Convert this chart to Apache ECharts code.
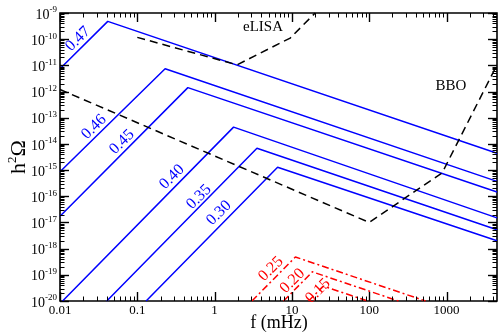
<!DOCTYPE html>
<html><head><meta charset="utf-8">
<script src="https://cdn.jsdelivr.net/npm/echarts@6/dist/echarts.min.js"></script>
<style>html,body{margin:0;padding:0;background:#fff}#c{width:498px;height:333px}</style>
</head><body><div id="c"></div>
<script>
// ---- axis ranges and tick labels ----
const X_MIN = 0.01, X_MAX = 4500;
const Y_MIN = 1e-20, Y_MAX = 1e-9;
const xTickValues = [0.01, 0.1, 1, 10, 100, 1000];
const xTickLabels = ['0.01', '0.1', '1', '10', '100', '1000'];
const yTickExponents = [-20, -19, -18, -17, -16, -15, -14, -13, -12, -11, -10, -9];

// ---- blue broken power-law spectra ([f (mHz), h^2 Omega]) ----
const blue047 = [[0.01, 7.4e-12], [0.0415, 4.8e-10], [4500, 4.4e-15]];
const blue046 = [[0.01, 8.7e-16], [0.229, 7.4e-12], [4500, 3.7e-16]];
const blue045 = [[0.01, 1.74e-17], [0.451, 1.41e-12], [4500, 1.45e-16]];
const blue040 = [[0.0108, 1e-20], [1.76, 4.37e-14], [4500, 1.5e-17]];
const blue035 = [[0.0403, 1e-20], [3.53, 6.8e-15], [4500, 5.3e-18]];
const blue030 = [[0.13, 1e-20], [6.53, 1.29e-15], [4500, 2.0e-18]];
const blueNames = ['0.47', '0.46', '0.45', '0.40', '0.35', '0.30'];

// ---- red spectra ----
const red025 = [[3.04, 1e-20], [11.1, 4.8e-19], [535, 1e-20]];
const red020 = [[7.8, 1e-20], [18.4, 1.3e-19], [239, 1e-20]];
const red015 = [[16.4, 1e-20], [25.5, 3.7e-20], [95, 1e-20]];
const redNames = ['0.25', '0.20', '0.15'];

// ---- sensitivity curves ----
const eLISA = [[0.1, 1.17e-10], [1.95, 1.05e-11], [9.5, 1.1e-10], [20, 1e-9]];
const BBO = [[0.01, 1.2e-12], [100, 1.0e-17], [880, 7.9e-16], [4500, 1.05e-11]];

// ---- tick marks (major decades + log minor ticks) ----
const xTicks = [];
for (let d = -2; d <= 3; d++) {
  const base = Math.pow(10, d);
  xTicks.push([base, 1]);
  for (let k = 2; k <= 9; k++) { const v = k * base; if (v < X_MAX) xTicks.push([v, 0]); }
}
const yTicks = [];
for (let d = -20; d <= -9; d++) {
  const base = Math.pow(10, d);
  yTicks.push([base, 1]);
  if (d < -9) for (let k = 2; k <= 9; k++) yTicks.push([k * base, 0]);
}

const SERIF = 'Liberation Serif';
const BLUE = '#0000ff', RED = '#ff0000';

function lineSeries(name, data, color, type) {
  return { name, type: 'line', data, symbol: 'none', clip: true, silent: true,
    lineStyle: { color, width: 1.5, type: type || 'solid' }, z: 3 };
}

const series = [
  lineSeries('0.47', blue047, BLUE), lineSeries('0.46', blue046, BLUE), lineSeries('0.45', blue045, BLUE),
  lineSeries('0.40', blue040, BLUE), lineSeries('0.35', blue035, BLUE), lineSeries('0.30', blue030, BLUE),
  lineSeries('0.25', red025, RED, [7, 3, 2, 3]), lineSeries('0.20', red020, RED, [7, 3, 2, 3]),
  lineSeries('0.15', red015, RED, [7, 3, 2, 3]),
  lineSeries('eLISA', eLISA, '#000', [8, 5]), lineSeries('BBO', BBO, '#000', [8, 5])
];

function txt(x, y, text, color, size, rot) {
  return { type: 'text', x, y, rotation: rot || 0, z: 10, silent: true,
    style: { text, fill: color, font: size + 'px "' + SERIF + '"', align: 'center', verticalAlign: 'middle',
      textAlign: 'center', textVerticalAlign: 'middle' } };
}
const R45 = Math.PI / 4;
const graphics = [
  txt(78, 39, blueNames[0], BLUE, 16, R45),
  txt(94, 127, blueNames[1], BLUE, 16, R45),
  txt(122, 142, blueNames[2], BLUE, 16, R45),
  txt(172, 177, blueNames[3], BLUE, 16, R45),
  txt(199, 197, blueNames[4], BLUE, 16, R45),
  txt(219, 213, blueNames[5], BLUE, 16, R45),
  txt(271, 269, redNames[0], RED, 16, R45),
  txt(292.5, 281, redNames[1], RED, 16, R45),
  txt(318, 291, redNames[2], RED, 16, R45),
  txt(263, 27, 'eLISA', '#000', 15, 0),
  txt(451, 86, 'BBO', '#000', 15, 0),
  txt(279, 323, 'f (mHz)', '#000', 18, 0)
];

const chart = echarts.init(document.getElementById('c'), null, { renderer: 'canvas' });
chart.setOption({
  animation: false,
  backgroundColor: '#fff',
  grid: { left: 60, right: 1, top: 13, bottom: 32, show: true, borderColor: '#000', borderWidth: 1.6,
    backgroundColor: 'transparent', containLabel: false, outerBoundsMode: 'none' },
  xAxis: {
    type: 'log', logBase: 10, min: X_MIN, max: X_MAX, splitNumber: 6,
    axisLine: { show: false }, axisTick: { show: false }, splitLine: { show: false },
    axisLabel: { margin: 3, color: '#000', fontFamily: SERIF, fontSize: 13, showMaxLabel: false, interval: 0,
      formatter: v => { const e = Math.round(Math.log10(v)); const i = xTickValues.findIndex(t => Math.abs(Math.log10(t) - e) < 1e-6); return (i >= 0 && Math.abs(Math.log10(v) - e) < 1e-6) ? xTickLabels[i] : ''; } }
  },
  yAxis: {
    type: 'log', logBase: 10, min: Y_MIN, max: Y_MAX, splitNumber: 11,
    name: '{h|h}{s|2}{h|Ω}', nameLocation: 'middle', nameGap: 30,
    nameTextStyle: { color: '#000', rich: {
      h: { fontFamily: SERIF, fontSize: 22, lineHeight: 22, color: '#000' },
      s: { fontFamily: SERIF, fontSize: 13, lineHeight: 13, padding: [0, 0, 12, 0], color: '#000' } } },
    axisLine: { show: false }, axisTick: { show: false }, splitLine: { show: false },
    axisLabel: { show: false }
  },
  series,
  graphic: graphics
});

// tick marks on all four sides and y tick labels, positioned through the chart's own scales
const extraEls = [];
function tickLine(x1, y1, x2, y2, lw) {
  extraEls.push({ type: 'line', silent: true, z: 20, shape: { x1, y1, x2, y2 }, style: { stroke: '#000', lineWidth: lw } });
}
xTicks.forEach(([v, major]) => {
  const len = major ? 9 : 4.5, lw = major ? 1.4 : 1;
  const b = chart.convertToPixel({ gridIndex: 0 }, [v, Y_MIN]);
  const t = chart.convertToPixel({ gridIndex: 0 }, [v, Y_MAX]);
  const x = Math.round(b[0]) + 0.5;
  tickLine(x, b[1], x, b[1] - len, lw);
  tickLine(x, t[1], x, t[1] + len, lw);
});
yTicks.forEach(([v, major]) => {
  const len = major ? 9 : 4.5, lw = major ? 1.4 : 1;
  const l = chart.convertToPixel({ gridIndex: 0 }, [X_MIN, v]);
  const r = chart.convertToPixel({ gridIndex: 0 }, [X_MAX, v]);
  const y = Math.round(l[1]) + 0.5;
  tickLine(l[0], y, l[0] + len, y, lw);
  tickLine(r[0], y, r[0] - len, y, lw);
});
yTickExponents.forEach(e => {
  const p = chart.convertToPixel({ gridIndex: 0 }, [X_MIN, Math.pow(10, e)]);
  extraEls.push({ type: 'text', silent: true, z: 20, x: p[0] - 3, y: p[1] + 2,
    style: { text: '{a|10}{b|' + e + '}', align: 'right', verticalAlign: 'middle',
      textAlign: 'right', textVerticalAlign: 'middle',
      rich: {
        a: { fontFamily: SERIF, fontSize: 14, lineHeight: 14, fill: '#000', color: '#000' },
        b: { fontFamily: SERIF, fontSize: 9, lineHeight: 9, padding: [0, 0, 10, 0], fill: '#000', color: '#000' } } } });
});
chart.setOption({ graphic: graphics.concat(extraEls) });
</script></body></html>
